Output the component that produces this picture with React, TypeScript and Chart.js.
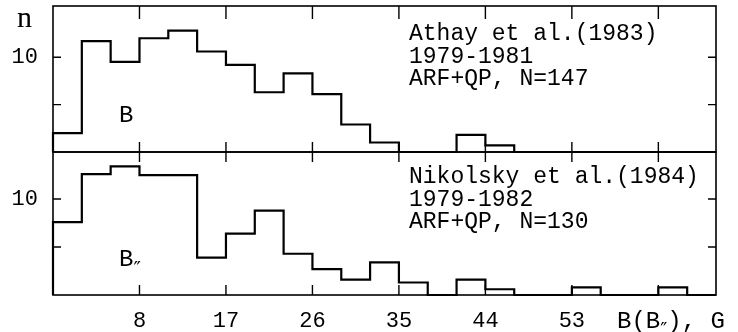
import React, { useEffect, useRef } from 'react';
import { Chart, registerables } from 'chart.js';

Chart.register(...registerables);

// Field-strength bins (G), each 3 G wide
const binEdges = [-1, 2, 5, 8, 11, 14, 17, 20, 23, 26, 29, 32, 35, 38, 41, 44, 47, 50, 53, 56, 59, 62, 65, 68];
// Number of events per bin, total field B (upper panel)
const athayCounts = [2, 11.7, 9.5, 12, 12.8, 10.6, 9.2, 6.3, 8.3, 6.1, 2.9, 1, 0, 0, 1.8, 0.7, 0, 0, 0, 0, 0, 0, 0];
// Number of events per bin, longitudinal field B∥ (lower panel)
const nikolskyCounts = [7.6, 12.6, 13.4, 12.5, 12.5, 3.9, 6.4, 8.8, 4.3, 2.7, 1.6, 3.4, 1.3, 0, 1.6, 0.6, 0, 0, 0.8, 0, 0, 0.8, 0];

const xTickValues = [8, 17, 26, 35, 44, 53, 62];
const xTickLabels = ['8', '17', '26', '35', '44', '53', ''];
const yTickValues = [5, 10];
const yTickLabels = ['', '10'];

const athayNotes = ['Athay et al.(1983)', '1979-1981', 'ARF+QP, N=147'];
const nikolskyNotes = ['Nikolsky et al.(1984)', '1979-1982', 'ARF+QP, N=130'];

const MONO = '"Liberation Mono", "DejaVu Sans Mono", monospace';
const SERIF = '"Liberation Serif", serif';
const PRIME_FONT = '"DejaVu Sans", sans-serif';

type Pt = { x: number; y: number };

// Histogram outline: rise from the baseline at the first edge, hold each bin's
// value across its width, and drop back to the baseline at the last edge.
function stepPoints(counts: number[]): Pt[] {
  const pts: Pt[] = [{ x: binEdges[0], y: 0 }];
  counts.forEach((c, i) => pts.push({ x: binEdges[i], y: c }));
  pts.push({ x: binEdges[binEdges.length - 1], y: 0 });
  return pts;
}

type Run = { text: string; font: string; dy?: number };

function drawRuns(ctx: CanvasRenderingContext2D, x: number, y: number, runs: Run[]) {
  let cx = x;
  for (const r of runs) {
    ctx.font = r.font;
    ctx.fillText(r.text, cx, y + (r.dy || 0));
    cx += ctx.measureText(r.text).width;
  }
}

type PanelDeco = {
  topTick: number;
  bottomTick: number;
  notes: string[];
  noteBaselines: number[];
  label: Run[];
  labelBaseline: number;
  extra?: (ctx: CanvasRenderingContext2D, chart: any) => void;
};

// Frame around the plot, inward-pointing ticks on all four sides, and the panel texts.
function panelPlugin(id: string, deco: PanelDeco) {
  return {
    id,
    afterDatasetsDraw(chart: any) {
      const { ctx, chartArea: a, scales } = chart;
      const xs = scales.x;
      const ys = scales.y;
      ctx.save();
      ctx.strokeStyle = '#000';
      ctx.fillStyle = '#000';
      ctx.lineWidth = 1.6;
      ctx.strokeRect(a.left, a.top, a.right - a.left, a.bottom - a.top);

      ctx.lineWidth = 1.4;
      ctx.beginPath();
      for (const v of xTickValues) {
        const px = xs.getPixelForValue(v);
        ctx.moveTo(px, a.top);
        ctx.lineTo(px, a.top + deco.topTick);
        ctx.moveTo(px, a.bottom);
        ctx.lineTo(px, a.bottom - deco.bottomTick);
      }
      for (const v of yTickValues) {
        const py = ys.getPixelForValue(v);
        ctx.moveTo(a.left, py);
        ctx.lineTo(a.left + 8, py);
        ctx.moveTo(a.right, py);
        ctx.lineTo(a.right - 8, py);
      }
      ctx.stroke();

      ctx.textAlign = 'left';
      ctx.textBaseline = 'alphabetic';
      ctx.font = `23px ${MONO}`;
      const noteX = a.left + 356;
      deco.notes.forEach((t, i) => ctx.fillText(t, noteX, a.top + deco.noteBaselines[i]));

      drawRuns(ctx, a.left + 66, a.top + deco.labelBaseline, deco.label);
      if (deco.extra) deco.extra(ctx, chart);
      ctx.restore();
    },
  };
}

const lineDataset = (counts: number[]) => ({
  data: stepPoints(counts),
  stepped: true as const,
  borderColor: '#000',
  borderWidth: 2.2,
  pointRadius: 0,
  fill: false,
  clip: 4,
});

// Scales keep no extra padding so the plot area sits exactly inside the layout padding.
const noPadding = (s: any) => {
  s.paddingTop = 0;
  s.paddingBottom = 0;
  s.paddingLeft = 0;
  s.paddingRight = 0;
};

const yScale = (max: number) => ({
  type: 'linear' as const,
  min: 0,
  max,
  afterBuildTicks: (s: any) => {
    s.ticks = yTickValues.map((v) => ({ value: v }));
  },
  afterFit: (s: any) => {
    s.width = 53;
    noPadding(s);
  },
  ticks: {
    callback: (_v: any, i: number) => yTickLabels[i],
    color: '#000',
    padding: 15,
    font: { family: MONO, size: 22 },
  },
  grid: { display: false, drawTicks: false },
  border: { display: false },
});

export default function App() {
  const topRef = useRef<HTMLCanvasElement>(null);
  const bottomRef = useRef<HTMLCanvasElement>(null);

  useEffect(() => {
    const common = {
      responsive: false,
      animation: false as const,
      devicePixelRatio: 1,
      events: [] as any[],
      plugins: { legend: { display: false }, tooltip: { enabled: false } },
    };

    const top = new Chart(topRef.current!, {
      type: 'line',
      data: { datasets: [lineDataset(athayCounts)] },
      options: {
        ...common,
        layout: { padding: { top: 6, right: 22, bottom: 8, left: 0 } },
        scales: {
          x: {
            type: 'linear',
            min: binEdges[0],
            max: binEdges[binEdges.length - 1],
            display: false,
            afterFit: noPadding,
          },
          y: yScale(15.4),
        },
      } as any,
      plugins: [
        panelPlugin('upperPanel', {
          topTick: 13,
          bottomTick: 10,
          notes: athayNotes,
          noteBaselines: [34, 57, 79],
          label: [{ text: 'B', font: `24px ${MONO}` }],
          labelBaseline: 116,
          extra: (ctx) => {
            ctx.font = `30px ${SERIF}`;
            ctx.fillText('n', 17, 27);
          },
        }),
      ],
    });

    const bottom = new Chart(bottomRef.current!, {
      type: 'line',
      data: { datasets: [lineDataset(nikolskyCounts)] },
      options: {
        ...common,
        layout: { padding: { top: 8, right: 22, bottom: 0, left: 0 } },
        scales: {
          x: {
            type: 'linear',
            min: binEdges[0],
            max: binEdges[binEdges.length - 1],
            afterBuildTicks: (s: any) => {
              s.ticks = xTickValues.map((v) => ({ value: v }));
            },
            afterFit: (s: any) => {
              s.height = 37;
              noPadding(s);
            },
            ticks: {
              callback: (_v: any, i: number) => xTickLabels[i],
              autoSkip: false,
              maxRotation: 0,
              color: '#000',
              padding: 13,
              font: { family: MONO, size: 22 },
            },
            grid: { display: false, drawTicks: false },
            border: { display: false },
          },
          y: yScale(14.9),
        },
      } as any,
      plugins: [
        panelPlugin('lowerPanel', {
          topTick: 10,
          bottomTick: 10,
          notes: nikolskyNotes,
          noteBaselines: [31, 54, 76],
          label: [
            { text: 'B', font: `24px ${MONO}` },
            { text: '″', font: `20px ${PRIME_FONT}`, dy: 9 },
          ],
          labelBaseline: 114,
          extra: (ctx, chart) => {
            const a = chart.chartArea;
            drawRuns(ctx, 617, a.bottom + 33, [
              { text: 'B(B', font: `24px ${MONO}` },
              { text: '″', font: `19px ${PRIME_FONT}`, dy: 8 },
              { text: '), G', font: `24px ${MONO}` },
            ]);
          },
        }),
      ],
    });

    return () => {
      top.destroy();
      bottom.destroy();
    };
  }, []);

  return (
    <div style={{ position: 'fixed', left: 0, top: 0, width: 738, height: 332, background: '#fff' }}>
      <canvas
        ref={topRef}
        width={738}
        height={160}
        style={{ position: 'absolute', left: 0, top: 0, width: 738, height: 160 }}
      />
      <canvas
        ref={bottomRef}
        width={738}
        height={188}
        style={{ position: 'absolute', left: 0, top: 144, width: 738, height: 188 }}
      />
    </div>
  );
}
